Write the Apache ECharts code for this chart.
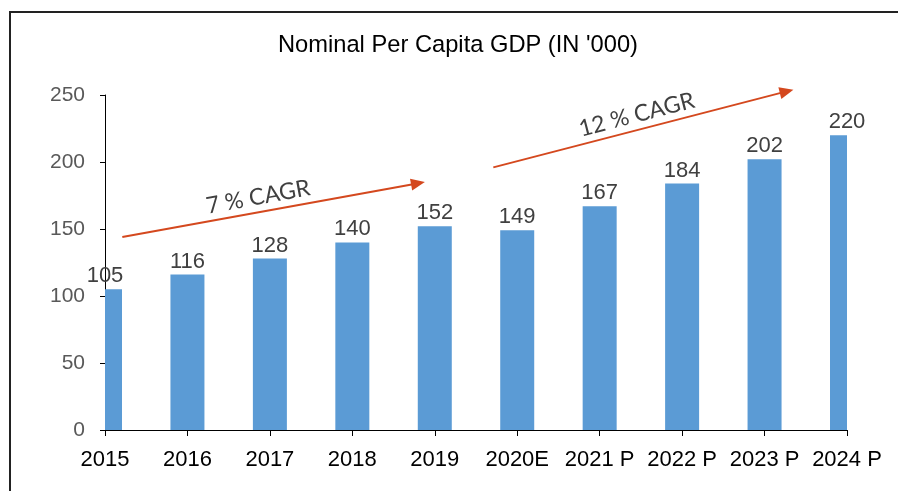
<!DOCTYPE html>
<html>
<head>
<meta charset="utf-8">
<script src="https://cdn.jsdelivr.net/npm/echarts@6/dist/echarts.min.js"></script>
<style>html,body{margin:0;padding:0;background:#fff;}#c{width:898px;height:491px;}</style>
</head>
<body>
<div id="c"></div>
<script>
const categories = ['2015','2016','2017','2018','2019','2020E','2021 P','2022 P','2023 P','2024 P'];
const values = [105,116,128,140,152,149,167,184,202,220];
const yMin = 0, yMax = 250, yInterval = 50;
const titleText = "Nominal Per Capita GDP (IN '000)";
// CAGR arrows in data coordinates: [position along categories, value]
const cagrLabels = ['7 % CAGR','12 % CAGR'];
const cagrStart = [[0.21,144],[4.71,196]];
const cagrEnd = [[3.88,185],[8.35,254]];

const font = 'Arial, "Liberation Sans", sans-serif';
const barStyle = {width:34, color:'#5B9BD5', labelColor:'#404040', labelSize:22, labelGap:2};
const arrowStyle = {color:'#D4481E', width:2, headLen:14, headHalf:6, textSize:23, textColor:'#404040', textLift:15, textShift:[-13,-3]};

const chart = echarts.init(document.getElementById('c'), null, {renderer:'canvas'});
chart.setOption({
  animation:false,
  title:{text:titleText,left:273,top:28,textStyle:{fontFamily:font,fontSize:23.7,fontWeight:'normal',color:'#000'}},
  grid:{left:105,right:51,top:95,bottom:61},
  xAxis:[
    {type:'category',data:categories,boundaryGap:false,
     axisLine:{lineStyle:{color:'#000',width:1}},
     axisTick:{length:6,interval:0,lineStyle:{color:'#000'}},
     axisLabel:{interval:0,fontFamily:font,fontSize:22,color:'#000',margin:19}},
    {type:'value',min:0,max:categories.length-1,show:false}
  ],
  yAxis:{type:'value',min:yMin,max:yMax,interval:yInterval,
    axisLine:{show:true,lineStyle:{color:'#000',width:1}},
    axisTick:{show:true,length:5,lineStyle:{color:'#000'}},
    splitLine:{show:false},
    axisLabel:{fontFamily:font,fontSize:21,color:'#595959',margin:20}},
  graphic:[{type:'rect',shape:{x:10,y:12,width:1000,height:1000},style:{fill:null,stroke:'#222',lineWidth:2},silent:true,z:100}],
  series:[
    {type:'custom',xAxisIndex:0,yAxisIndex:0,
     data:values.map((v,i)=>[i,v]),encode:{x:0,y:1},
     renderItem:function(params,api){
       const i=api.value(0), v=api.value(1);
       const top=api.coord([i,v]), base=api.coord([i,0]);
       const cs=params.coordSys;
       const r=echarts.graphic.clipRectByRect(
         {x:top[0]-barStyle.width/2,y:top[1],width:barStyle.width,height:base[1]-top[1]},
         {x:cs.x,y:cs.y,width:cs.width,height:cs.height});
       return {type:'group',children:[
         {type:'rect',shape:r,style:{fill:barStyle.color}},
         {type:'text',x:top[0],y:top[1]-barStyle.labelGap,
          style:{text:String(v),align:'center',verticalAlign:'bottom',fontFamily:font,fontSize:barStyle.labelSize,fill:barStyle.labelColor}}
       ]};
     }},
    {type:'custom',xAxisIndex:1,yAxisIndex:0,clip:false,
     data:cagrStart.map(p=>[p[0],p[1]]),encode:{x:0,y:1},
     renderItem:function(params,api){
       const k=params.dataIndex;
       const p1=api.coord(cagrStart[k]), p2=api.coord(cagrEnd[k]);
       const dx=p2[0]-p1[0], dy=p2[1]-p1[1], L=Math.sqrt(dx*dx+dy*dy);
       const ux=dx/L, uy=dy/L, nx=uy, ny=-ux; // normal pointing up
       const h=arrowStyle.headLen, w=arrowStyle.headHalf;
       const bx=p2[0]-ux*h, by=p2[1]-uy*h;
       const mx=(p1[0]+p2[0])/2+ux*arrowStyle.textShift[k]+nx*arrowStyle.textLift;
       const my=(p1[1]+p2[1])/2+uy*arrowStyle.textShift[k]+ny*arrowStyle.textLift;
       const ang=Math.atan2(p1[1]-p2[1],p2[0]-p1[0]);
       return {type:'group',children:[
         {type:'line',shape:{x1:p1[0],y1:p1[1],x2:bx+ux*2,y2:by+uy*2},style:{stroke:arrowStyle.color,lineWidth:arrowStyle.width}},
         {type:'polygon',shape:{points:[[p2[0],p2[1]],[bx+nx*w,by+ny*w],[bx-nx*w,by-ny*w]]},style:{fill:arrowStyle.color}},
         {type:'text',x:mx,y:my,rotation:ang,
          style:{text:cagrLabels[k],align:'center',verticalAlign:'middle',fontFamily:'Lato, "Open Sans", sans-serif',fontSize:arrowStyle.textSize,fill:arrowStyle.textColor}}
       ]};
     }}
  ]
});
</script>
</body>
</html>
